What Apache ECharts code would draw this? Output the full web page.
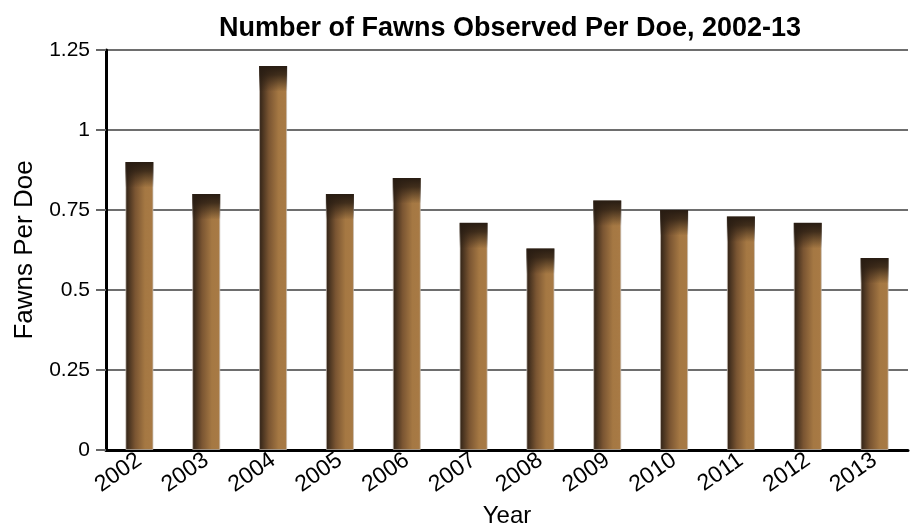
<!DOCTYPE html>
<html>
<head>
<meta charset="utf-8">
<script src="https://cdn.jsdelivr.net/npm/echarts@6/dist/echarts.min.js"></script>
<style>
html,body{margin:0;padding:0;background:#fff;}
#chart{width:916px;height:529px;}
</style>
</head>
<body>
<div id="chart"></div>
<script>
var years = ['2002','2003','2004','2005','2006','2007','2008','2009','2010','2011','2012','2013'];
var fawns = [0.9, 0.8, 1.2, 0.8, 0.85, 0.71, 0.63, 0.78, 0.75, 0.73, 0.71, 0.6];
var yTicks = [0, 0.25, 0.5, 0.75, 1, 1.25];

var capSize = 0.08; // dark shading at the top of each bar
var fnt = '"Liberation Sans Narrow", "Arial Narrow", "Liberation Sans", sans-serif';

var myChart = echarts.init(document.getElementById('chart'));

var option = {
	animation: false,
	title: {
		text: 'Number of Fawns Observed Per Doe, 2002-13',
		left: 505,
		textAlign: 'center',
		top: 10,
		textStyle: {color: '#000', fontFamily: fnt, fontWeight: 'bold', fontSize: 27}
	},
	grid: {left: 106, right: 8, top: 50, bottom: 79, outerBoundsMode: 'none'},
	xAxis: {
		type: 'category',
		data: years,
		name: 'Year',
		nameLocation: 'middle',
		nameGap: 54,
		nameTextStyle: {color: '#000', fontFamily: fnt, fontSize: 24},
		axisLine: {lineStyle: {color: '#000', width: 3}},
		axisTick: {show: false},
		axisLabel: {
			rotate: 35, color: '#000', fontFamily: fnt, fontSize: 23,
			margin: 8, interval: 0
		}
	},
	yAxis: {
		type: 'value',
		min: 0, max: 1.25, interval: 0.25,
		name: 'Fawns Per Doe',
		nameLocation: 'middle',
		nameGap: 66,
		nameTextStyle: {color: '#000', fontFamily: fnt, fontSize: 26},
		axisLine: {show: true, lineStyle: {color: '#000', width: 3}},
		axisTick: {show: true, length: 10, lineStyle: {color: '#666', width: 2}},
		splitLine: {lineStyle: {color: '#6e6e6e', width: 2}},
		axisLabel: {
			color: '#000', fontFamily: fnt, fontSize: 21, margin: 16,
			formatter: function (v) {
				return yTicks.indexOf(v) >= 0 ? String(v) : '';
			}
		}
	},
	series: [
		{
			type: 'bar',
			data: fawns,
			barWidth: '42%',
			itemStyle: {
				borderColor: 'rgba(200,190,180,0.7)',
				borderWidth: 1,
				color: new echarts.graphic.LinearGradient(0, 0, 1, 0, [
					{offset: 0, color: '#2e2116'},
					{offset: 0.35, color: '#7a5532'},
					{offset: 0.7, color: '#a57843'},
					{offset: 1, color: '#a87a45'}
				])
			}
		},
		{
			type: 'bar',
			stack: 'cap',
			data: fawns.map(function (v) { return v - capSize; }),
			barWidth: '42%',
			barGap: '-100%',
			itemStyle: {color: 'rgba(0,0,0,0)'},
			silent: true
		},
		{
			type: 'bar',
			stack: 'cap',
			data: fawns.map(function () { return capSize; }),
			barWidth: '42%',
			itemStyle: {
				color: new echarts.graphic.LinearGradient(0, 0, 0, 1, [
					{offset: 0, color: 'rgba(40,28,18,1)'},
					{offset: 0.35, color: 'rgba(40,28,18,0.8)'},
					{offset: 1, color: 'rgba(40,28,18,0)'}
				])
			},
			silent: true
		}
	]
};

myChart.setOption(option);
</script>
</body>
</html>
